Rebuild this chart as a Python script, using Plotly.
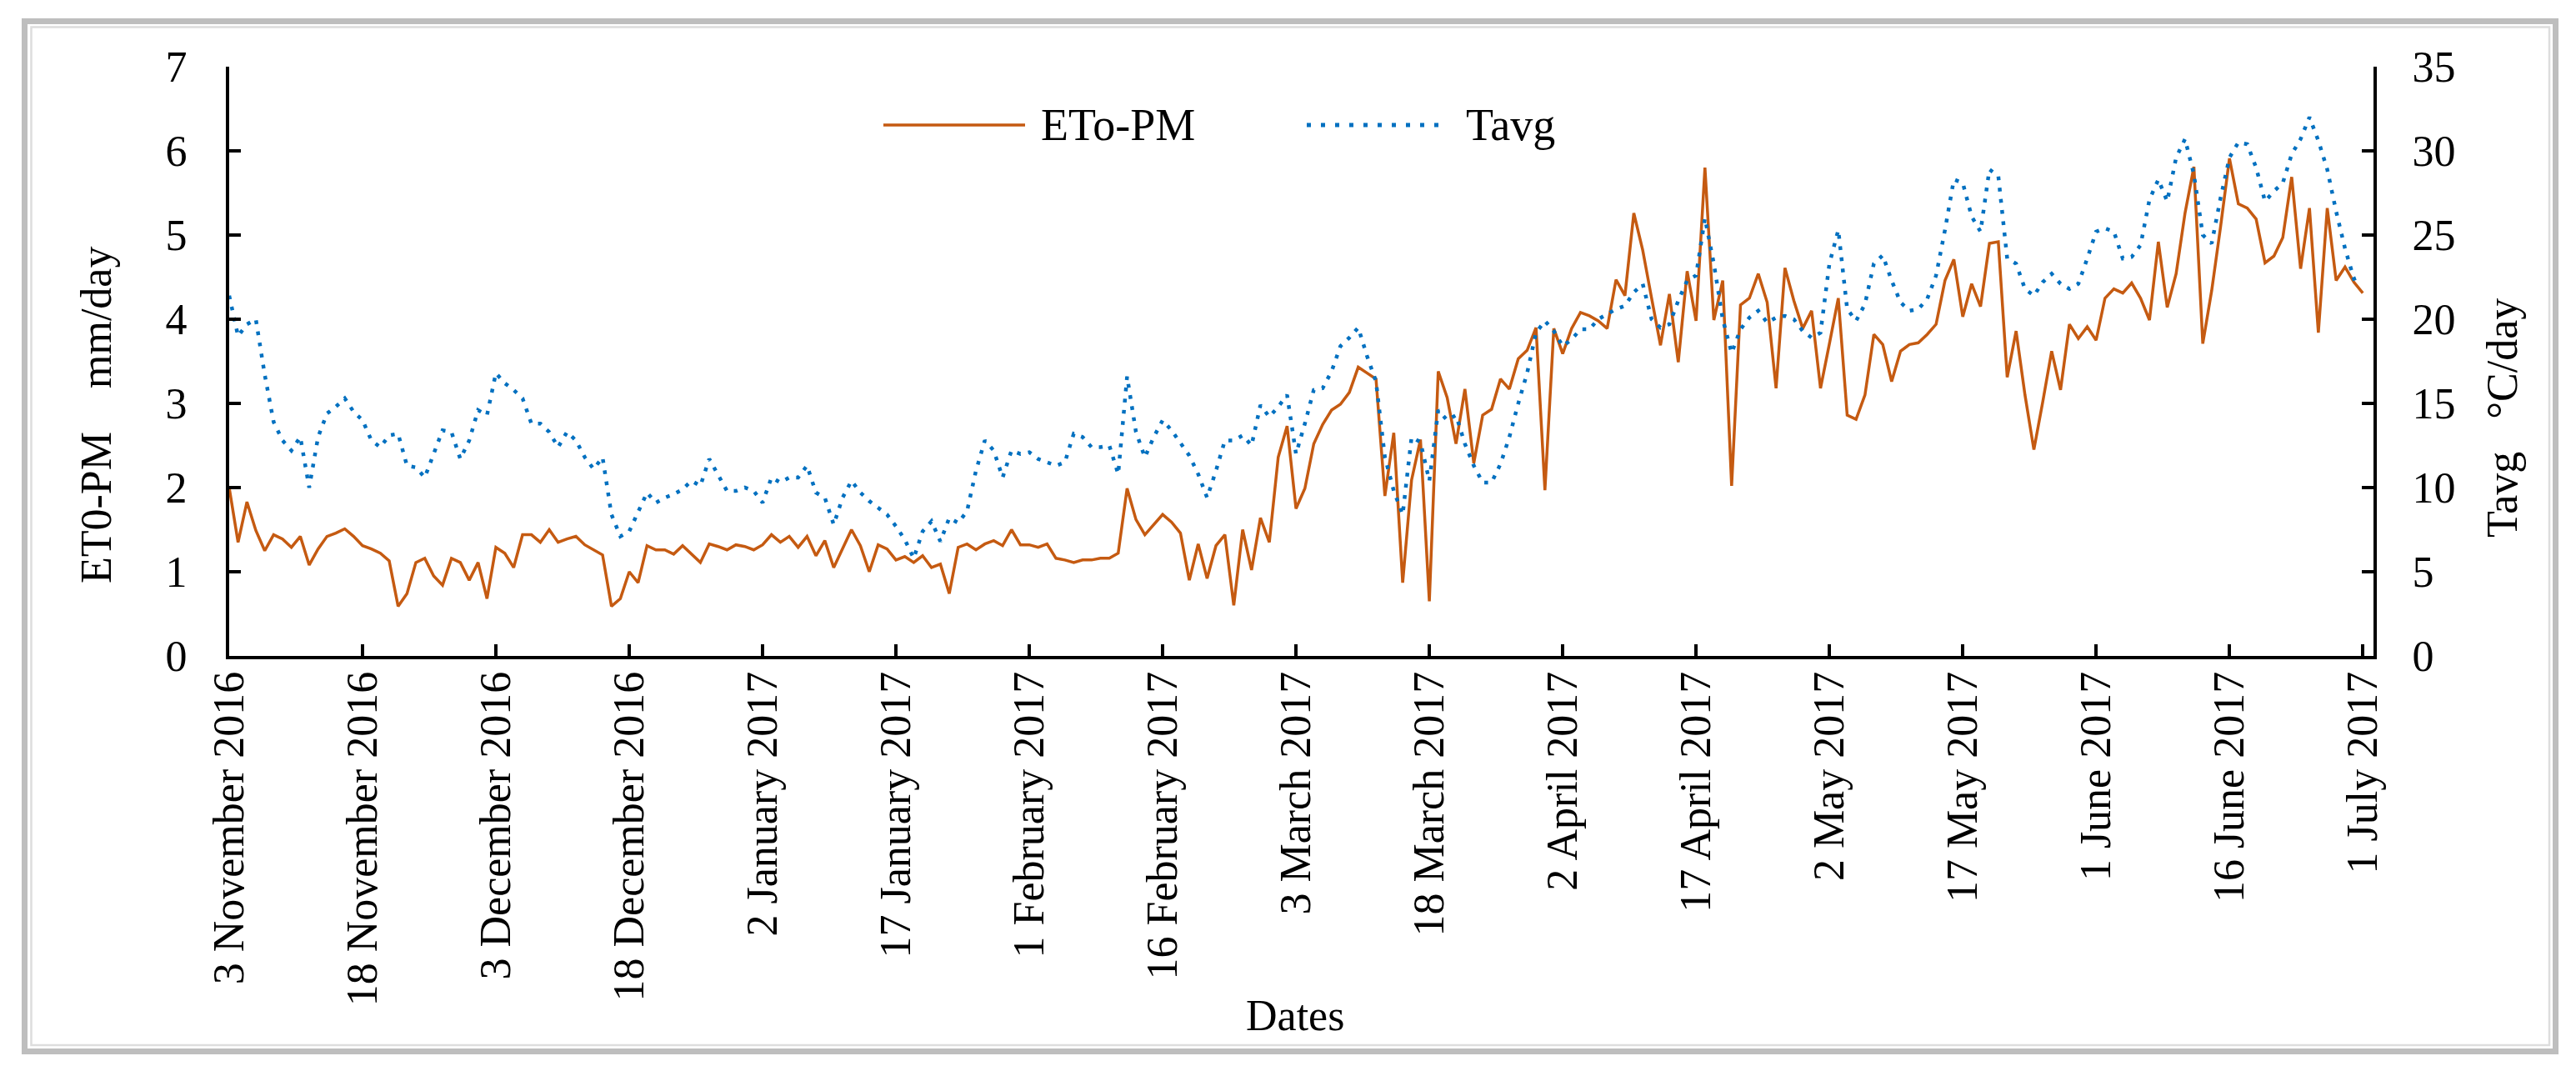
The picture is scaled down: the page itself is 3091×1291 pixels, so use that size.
import pandas as pd
import plotly.graph_objects as go

# ---------------- data ----------------
start_date = "2016-11-03"

eto_pm = [
    2.00, 1.35, 1.83, 1.49, 1.25, 1.44, 1.39, 1.29, 1.42, 1.08,
    1.27, 1.42, 1.46, 1.51, 1.42, 1.31, 1.27, 1.22, 1.13, 0.59,
    0.74, 1.11, 1.16, 0.95, 0.84, 1.16, 1.11, 0.90, 1.11, 0.68,
    1.29, 1.22, 1.05, 1.44, 1.44, 1.35, 1.50, 1.35, 1.39, 1.42,
    1.32, 1.26, 1.20, 0.59, 0.68, 1.00, 0.87, 1.31, 1.26, 1.26,
    1.21, 1.31, 1.21, 1.11, 1.33, 1.30, 1.26, 1.32, 1.30, 1.26,
    1.32, 1.44, 1.35, 1.42, 1.29, 1.42, 1.19, 1.37, 1.05, 1.27,
    1.50, 1.31, 1.00, 1.32, 1.27, 1.14, 1.18, 1.11, 1.19, 1.05,
    1.09, 0.74, 1.29, 1.33, 1.26, 1.33, 1.37, 1.31, 1.50, 1.32,
    1.32, 1.29, 1.33, 1.16, 1.14, 1.11, 1.14, 1.14, 1.16, 1.16,
    1.22, 1.99, 1.62, 1.44, 1.56, 1.68, 1.59, 1.46, 0.90, 1.33,
    0.92, 1.31, 1.44, 0.60, 1.50, 1.02, 1.64, 1.35, 2.36, 2.73,
    1.75, 1.99, 2.52, 2.75, 2.92, 2.99, 3.13, 3.43, 3.36, 3.29,
    1.90, 2.65, 0.87, 2.09, 2.57, 0.65, 3.38, 3.07, 2.52, 3.17,
    2.29, 2.86, 2.93, 3.29, 3.17, 3.53, 3.63, 3.90, 1.97, 3.89,
    3.59, 3.89, 4.08, 4.04, 3.98, 3.89, 4.47, 4.28, 5.26, 4.82,
    4.25, 3.69, 4.30, 3.49, 4.57, 3.98, 5.80, 3.99, 4.46, 2.02,
    4.17, 4.25, 4.54, 4.20, 3.18, 4.61, 4.22, 3.89, 4.10, 3.18,
    3.71, 4.25, 2.86, 2.81, 3.10, 3.82, 3.70, 3.26, 3.62, 3.70,
    3.72, 3.82, 3.94, 4.46, 4.71, 4.03, 4.42, 4.15, 4.90, 4.92,
    3.31, 3.86, 3.10, 2.45, 3.02, 3.62, 3.16, 3.94, 3.77, 3.91,
    3.75, 4.25, 4.36, 4.31, 4.43, 4.25, 3.99, 4.92, 4.14, 4.54,
    5.26, 5.81, 3.71, 4.34, 5.10, 5.91, 5.37, 5.32, 5.19, 4.67,
    4.75, 4.97, 5.69, 4.60, 5.32, 3.84, 5.32, 4.46, 4.62, 4.44,
    4.31,
]

tavg = [
    21.4, 19.0, 19.7, 20.0, 16.7, 13.9, 12.8, 12.2, 13.0, 10.0,
    13.0, 14.4, 14.8, 15.3, 14.5, 14.0, 12.8, 12.4, 13.1, 13.2,
    11.3, 11.2, 10.6, 12.0, 13.4, 13.3, 11.7, 12.8, 14.6, 14.3,
    16.8, 16.2, 15.8, 15.3, 13.8, 13.8, 13.3, 12.4, 13.3, 12.8,
    11.8, 11.1, 11.8, 8.4, 7.1, 7.4, 8.6, 9.7, 9.1, 9.4,
    9.6, 9.9, 10.4, 10.1, 11.7, 10.8, 9.8, 9.8, 10.0, 9.8,
    9.1, 10.6, 10.3, 10.6, 10.6, 11.3, 9.7, 9.4, 7.8, 9.4,
    10.4, 9.7, 9.2, 8.8, 8.4, 7.7, 6.9, 5.8, 7.4, 8.0,
    6.8, 8.2, 7.9, 8.6, 11.0, 12.8, 12.2, 10.6, 12.2, 12.0,
    12.1, 11.7, 11.5, 11.3, 11.5, 13.2, 13.0, 12.4, 12.4, 12.5,
    10.8, 16.6, 13.3, 11.8, 13.0, 14.0, 13.4, 12.6, 11.9, 10.8,
    9.4, 11.0, 12.8, 12.8, 13.1, 12.5, 14.9, 14.2, 14.8, 15.5,
    12.0, 13.8, 15.8, 15.9, 16.9, 18.4, 18.9, 19.5, 17.8, 16.3,
    11.8, 9.8, 8.4, 13.0, 12.7, 10.4, 14.6, 14.0, 14.3, 12.6,
    11.3, 10.3, 10.3, 11.4, 13.0, 15.0, 16.8, 19.2, 19.9, 19.3,
    18.4, 18.8, 19.4, 19.4, 20.0, 20.3, 20.6, 20.8, 21.6, 22.1,
    20.0, 19.5, 19.7, 21.1, 22.3, 22.6, 26.0, 23.3, 20.0, 18.0,
    19.4, 20.1, 20.5, 19.8, 20.1, 20.2, 20.0, 19.3, 18.9, 19.2,
    23.3, 25.3, 20.6, 19.9, 20.9, 23.3, 23.8, 22.3, 21.0, 20.5,
    20.6, 21.2, 22.6, 25.3, 28.3, 28.1, 26.1, 25.2, 28.9, 28.5,
    23.6, 23.3, 21.8, 21.4, 22.2, 22.7, 22.1, 21.8, 22.1, 23.6,
    25.2, 25.4, 25.2, 23.6, 23.7, 24.4, 27.1, 28.3, 27.0, 29.6,
    30.7, 28.6, 25.0, 24.5, 27.2, 29.6, 30.5, 30.4, 29.0, 27.0,
    27.6, 28.1, 29.8, 30.7, 32.0, 30.6, 28.9, 26.4, 24.2, 22.4,
    22.6,
]

tick_labels = [
    "3 November 2016", "18 November 2016", "3 December 2016", "18 December 2016",
    "2 January 2017", "17 January 2017", "1 February 2017", "16 February 2017",
    "3 March 2017", "18 March 2017", "2 April 2017", "17 April 2017",
    "2 May 2017", "17 May 2017", "1 June 2017", "16 June 2017", "1 July 2017",
]

series_names = ["ETo-PM", "Tavg"]

# ---------------- derived ----------------
dates = pd.date_range(start_date, periods=len(eto_pm), freq="D")
tick_vals = pd.date_range(start_date, periods=len(tick_labels), freq="15D")
x_end = pd.Timestamp(start_date) + pd.Timedelta(days=241.2)

ORANGE = "#C55A11"
BLUE = "#0070C0"
FONT = "Liberation Serif"
FS = 52

fig = go.Figure()
fig.add_trace(go.Scatter(
    x=dates, y=eto_pm, name=series_names[0], mode="lines",
    line=dict(color=ORANGE, width=3.5), yaxis="y", showlegend=False,
))
fig.add_trace(go.Scatter(
    x=dates, y=tavg, name=series_names[1], mode="lines",
    line=dict(color=BLUE, width=4.5, dash="4.5px,9px"), yaxis="y2", showlegend=False,
))

W, H = 3091, 1291
L, R, T, B = 275, 2848, 80, 787
pw, ph = R - L, B - T


def px(xp):
    return (xp - L) / pw


def py(yp):
    return (B - yp) / ph


axis_common = dict(
    showline=True, linecolor="black", linewidth=4,
    ticks="inside", ticklen=14, tickwidth=4, tickcolor="black",
    showgrid=False, zeroline=False,
    tickfont=dict(family=FONT, size=FS, color="black"),
)

fig.update_layout(
    width=W, height=H, autosize=False,
    margin=dict(l=L, r=W - R, t=T, b=H - B, pad=0),
    paper_bgcolor="white", plot_bgcolor="white",
    font=dict(family=FONT, size=FS, color="black"),
    xaxis=dict(
        type="date", range=[pd.Timestamp(start_date), x_end],
        tickmode="array", tickvals=tick_vals, ticktext=tick_labels,
        tickangle=-90, ticklabelstandoff=-6, **axis_common,
    ),
    yaxis=dict(range=[0, 7], dtick=1, tick0=0, ticklabelstandoff=36, **axis_common),
    yaxis2=dict(range=[0, 35], dtick=5, tick0=0, overlaying="y", side="right",
                anchor="x", ticklabelstandoff=32, **axis_common),
)

# frame around the whole figure
fig.add_shape(type="rect", xref="paper", yref="paper",
              x0=px(29.5), x1=px(3066.5), y0=py(1261.5), y1=py(25.5),
              line=dict(color="#BEBEBE", width=7), layer="below")
fig.add_shape(type="rect", xref="paper", yref="paper",
              x0=px(37.5), x1=px(3059), y0=py(1254), y1=py(32.5),
              line=dict(color="#DDDDDD", width=2.5), layer="below")

# legend (drawn manually)
leg_y = py(150)
fig.add_shape(type="line", xref="paper", yref="paper",
              x0=px(1060), x1=px(1230), y0=leg_y, y1=leg_y,
              line=dict(color=ORANGE, width=3.5))
fig.add_shape(type="line", xref="paper", yref="paper",
              x0=px(1568), x1=px(1730), y0=leg_y, y1=leg_y,
              line=dict(color=BLUE, width=5, dash="5px,12px"))
fig.add_annotation(x=px(1247), y=leg_y, xref="paper", yref="paper",
                   text=series_names[0], showarrow=False, xanchor="left", yanchor="middle",
                   font=dict(family=FONT, size=54, color="black"))
fig.add_annotation(x=px(1757), y=leg_y, xref="paper", yref="paper",
                   text=series_names[1], showarrow=False, xanchor="left", yanchor="middle",
                   font=dict(family=FONT, size=54, color="black"))

# axis titles
fig.add_annotation(x=px(1554), y=py(1218), xref="paper", yref="paper",
                   text="Dates", showarrow=False, xanchor="center", yanchor="middle",
                   font=dict(family=FONT, size=FS, color="black"))
fig.add_annotation(x=px(115), y=py(498), xref="paper", yref="paper",
                   text="ET0-PM\u00a0\u00a0\u00a0\u00a0mm/day", textangle=-90, showarrow=False,
                   xanchor="center", yanchor="middle",
                   font=dict(family=FONT, size=FS, color="black"))
fig.add_annotation(x=px(3003), y=py(502), xref="paper", yref="paper",
                   text="Tavg\u00a0\u00a0\u00a0°C/day", textangle=-90, showarrow=False,
                   xanchor="center", yanchor="middle",
                   font=dict(family=FONT, size=FS, color="black"))

fig.write_html(
    "out.html",
    config={"displayModeBar": False},
    post_script="document.body.style.margin='0';document.body.style.overflow='hidden';",
)
